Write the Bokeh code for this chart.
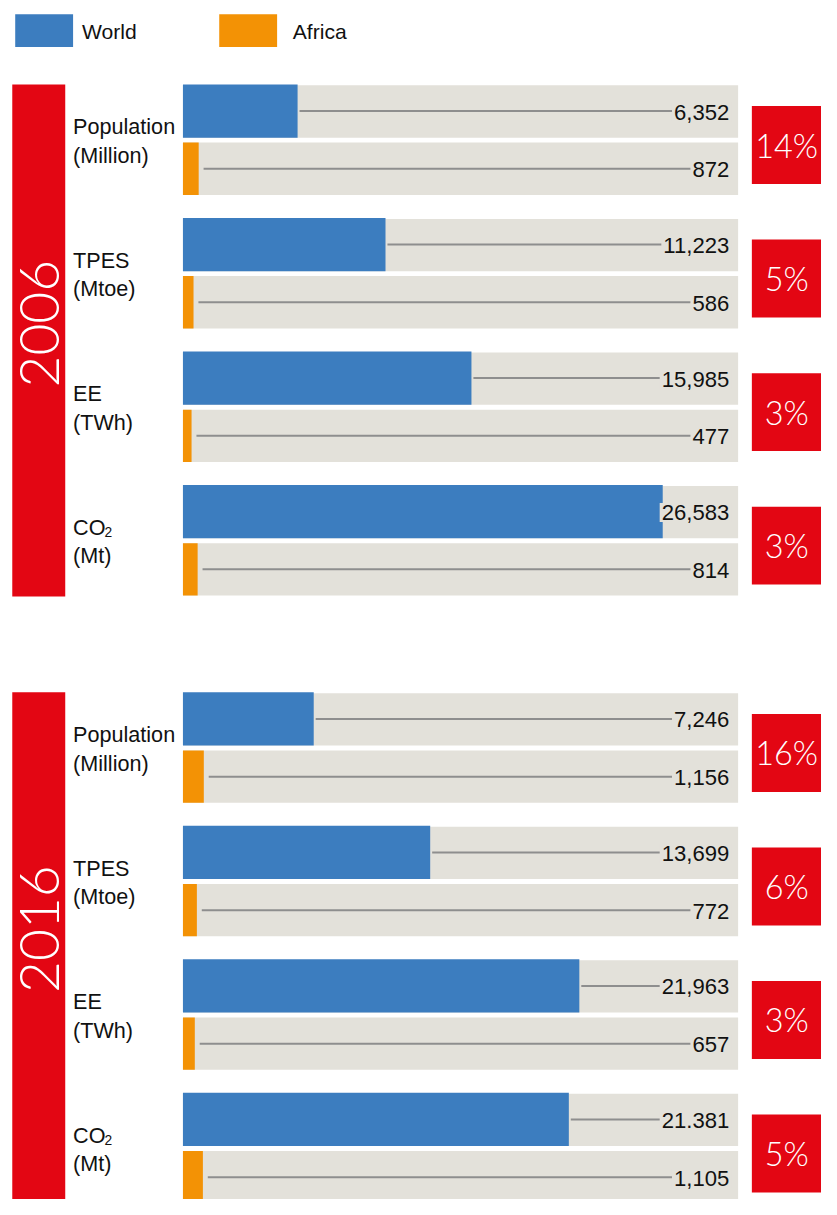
from math import pi
from bokeh.plotting import figure
from bokeh.models import Range1d
from bokeh.core.properties import value
from bokeh.embed import file_html
from bokeh.resources import INLINE

# ---------------- data ----------------
categories = ["Population", "TPES", "EE", "CO"]
units = ["(Million)", "(Mtoe)", "(TWh)", "(Mt)"]
years = ["2006", "2016"]
world_2006 = [6352, 11223, 15985, 26583]
africa_2006 = [872, 586, 477, 814]
world_lbl_2006 = ["6,352", "11,223", "15,985", "26,583"]
africa_lbl_2006 = ["872", "586", "477", "814"]
share_2006 = ["14%", "5%", "3%", "3%"]
world_2016 = [7246, 13699, 21963, 21381]
africa_2016 = [1156, 772, 657, 1105]
world_lbl_2016 = ["7,246", "13,699", "21,963", "21.381"]
africa_lbl_2016 = ["1,156", "772", "657", "1,105"]
share_2016 = ["16%", "6%", "3%", "5%"]
legend_names = ["World", "Africa"]

# ---------------- style ----------------
BLUE = "#3C7DBF"
ORANGE = "#F39205"
RED = "#E30613"
GRAY = "#E3E1DA"
LINE = "#8E8E8E"
SANS = value("Liberation Sans")
THIN = value("Lato Light")

W, H = 837, 1215
FW, FH = 821, 1199
BAR_X0 = 186
PX_PER_UNIT = 0.0184
U = 1.0 / PX_PER_UNIT


def X(px):
    return (px - BAR_X0) * U


FS = 0.983

p = figure(width=FW, height=FH, x_range=Range1d(X(0), X(W)), y_range=Range1d(H, 0),
           output_backend="svg", toolbar_location=None, min_border=0)
p.axis.visible = False
p.grid.visible = False
p.outline_line_color = None
p.background_fill_color = "white"


def fs(px):
    return f"{px * FS:.1f}px"


# legend
for i, (name, col) in enumerate(zip(legend_names, [BLUE, ORANGE])):
    lx = [15, 223][i]
    tx = [83, 298][i]
    p.quad(left=X(lx), right=X(lx + 59), top=14, bottom=47, fill_color=col, line_color=None)
    p.text(x=[X(tx)], y=[31], text=[name], text_font=SANS, text_font_size=fs(21.5),
           text_baseline="middle", text_align="left", text_color="#111111")

blocks = [
    (85, 604, world_2006, africa_2006, world_lbl_2006, africa_lbl_2006, share_2006),
    (701, 1215, world_2016, africa_2016, world_lbl_2016, africa_lbl_2016, share_2016),
]
STRIDE = 135.3

for b, (top0, bot, world, africa, wl, al, share) in enumerate(blocks):
    # red year bar
    p.quad(left=X(12), right=X(66), top=top0, bottom=bot, fill_color=RED, line_color=None)
    p.text(x=[X(40)], y=[(top0 + bot) / 2 - 17], text=[years[b]], angle=pi / 2,
           text_font=THIN, text_font_size=fs(56), text_color="white",
           text_align="center", text_baseline="middle")
    for i in range(4):
        t = top0 + STRIDE * i
        wy0, wy1 = t, t + 54
        ay0, ay1 = t + 59, t + 112
        # background rows
        p.quad(left=0, right=X(752), top=wy0 + 1, bottom=wy1, fill_color=GRAY, line_color=None)
        p.quad(left=0, right=X(752), top=ay0, bottom=ay1, fill_color=GRAY, line_color=None)
        # bars
        p.quad(left=0, right=world[i], top=wy0, bottom=wy1, fill_color=BLUE, line_color=None)
        p.quad(left=0, right=africa[i], top=ay0, bottom=ay1, fill_color=ORANGE, line_color=None)
        # leader lines
        wyc = (wy0 + wy1) / 2
        ayc = (ay0 + ay1) / 2
        p.segment(x0=[world[i] + 2 * U], y0=[wyc], x1=[X(744)], y1=[wyc],
                  line_color=LINE, line_width=2)
        p.segment(x0=[africa[i] + 5 * U], y0=[ayc], x1=[X(744)], y1=[ayc],
                  line_color=LINE, line_width=2)
        # value labels
        p.text(x=[X(745)], y=[wyc + 1], text=[wl[i]], text_font=SANS, text_font_size=fs(22.5),
               text_align="right", text_baseline="middle", text_color="#111111",
               background_fill_color=GRAY, padding=2)
        p.text(x=[X(745)], y=[ayc + 1], text=[al[i]], text_font=SANS, text_font_size=fs(22.5),
               text_align="right", text_baseline="middle", text_color="#111111",
               background_fill_color=GRAY, padding=2)
        # category labels
        p.text(x=[X(74)], y=[t + 43], text=[categories[i]], text_font=SANS,
               text_font_size=fs(22), text_align="left", text_baseline="middle",
               text_color="#111111")
        if categories[i] == "CO":
            p.text(x=[X(106)], y=[t + 48], text=["2"], text_font=SANS,
                   text_font_size=fs(14), text_align="left", text_baseline="middle",
                   text_color="#111111")
        p.text(x=[X(74)], y=[t + 72], text=[units[i]], text_font=SANS,
               text_font_size=fs(22), text_align="left", text_baseline="middle",
               text_color="#111111")
        # share box
        p.quad(left=X(766), right=X(W), top=t + 22, bottom=t + 101, fill_color=RED, line_color=None)
        p.text(x=[X(801.5)], y=[t + 61.5], text=[share[i]], text_font=THIN,
               text_font_size=fs(33), text_align="center", text_baseline="middle",
               text_color="white")

open("out.html", "w").write(file_html(p, INLINE))
